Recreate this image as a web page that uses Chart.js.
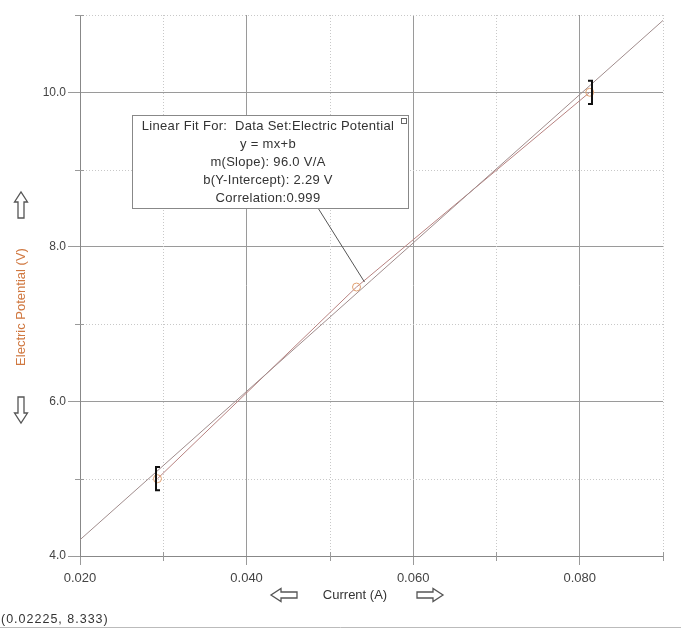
<!DOCTYPE html>
<html>
<head>
<meta charset="utf-8">
<script src="https://cdn.jsdelivr.net/npm/chart.js@4/dist/chart.umd.min.js"></script>
<style>
    html, body { margin:0; padding:0; background:#fff; }
    #wrap { width:681px; height:630px; position:relative; }
</style>
</head>
<body>
<div id="wrap"><canvas id="graph" width="681" height="630"></canvas></div>
<script>
// measured data (Current vs Electric Potential)
var current_a     = [0.0293, 0.0532, 0.0812];
var potential_v   = [5.00, 7.48, 10.00];

// linear fit drawn across the whole x range
var fit_x         = [0.020, 0.090];
var fit_y         = [4.21, 10.93];

// fit range brackets ( [ at first point, ] at last )
var bracket_index = [0, 2];
var bracket_half  = 0.15;

var x_tick_labels = ["0.020", "0.040", "0.060", "0.080"];
var y_tick_labels = ["4.0", "6.0", "8.0", "10.0"];

var fit_text = [
    "Linear Fit For:  Data Set:Electric Potential",
    "y = mx+b",
    "m(Slope): 96.0 V/A",
    "b(Y-Intercept): 2.29 V",
    "Correlation:0.999"
];
var status_text = "(0.02225, 8.333)";

var FONT  = "Liberation Sans, Arial, sans-serif";
var GRID  = "#9a9a9a";
var MINOR = "#c8c8c8";

function is_major_x(v){ return x_tick_labels.indexOf(v.toFixed(3)) >= 0; }
function is_major_y(v){ return y_tick_labels.indexOf(v.toFixed(1)) >= 0; }

//hollow block arrow, dir: "up" "down" "left" "right", centred on cx,cy
function block_arrow(c, cx, cy, dir){
    let len = 26, head = 10, hw = 6.5, sw = 3;
    //points for an arrow pointing right, then rotated
    let pts = [
        [-len/2, -sw], [len/2 - head, -sw], [len/2 - head, -hw], [len/2, 0],
        [len/2 - head, hw], [len/2 - head, sw], [-len/2, sw]
    ];
    let ang = {right:0, down:Math.PI/2, left:Math.PI, up:-Math.PI/2}[dir];
    c.save();
    c.translate(cx, cy);
    c.rotate(ang);
    c.beginPath();
    pts.forEach(function(p, i){ if (i == 0) c.moveTo(p[0], p[1]); else c.lineTo(p[0], p[1]); });
    c.closePath();
    c.fillStyle = "#fff";
    c.fill();
    c.lineWidth = 1.3;
    c.strokeStyle = "#555";
    c.stroke();
    c.restore();
}

var extras = {
    id: "extras",
    beforeDatasetsDraw: function(chart){
        let c  = chart.ctx;
        let a  = chart.chartArea;
        let xs = chart.scales.x;
        let ys = chart.scales.y;
        c.save();
        c.strokeStyle = MINOR;
        c.lineWidth = 1;
        //minor grid lines dotted
        c.setLineDash([1, 2]);
        xs.ticks.forEach(function(t){
            if (is_major_x(t.value)) return;
            let px = Math.round(xs.getPixelForValue(t.value)) + 0.5;
            c.beginPath(); c.moveTo(px, a.top); c.lineTo(px, a.bottom); c.stroke();
        });
        ys.ticks.forEach(function(t){
            if (is_major_y(t.value)) return;
            let py = Math.round(ys.getPixelForValue(t.value)) + 0.5;
            c.beginPath(); c.moveTo(a.left, py); c.lineTo(a.right, py); c.stroke();
        });
        //minor ticks
        c.setLineDash([]);
        c.strokeStyle = GRID;
        xs.ticks.forEach(function(t){
            if (is_major_x(t.value)) return;
            let px = Math.round(xs.getPixelForValue(t.value)) + 0.5;
            c.beginPath(); c.moveTo(px, a.bottom - 4); c.lineTo(px, a.bottom + 5); c.stroke();
        });
        ys.ticks.forEach(function(t){
            if (is_major_y(t.value)) return;
            let py = Math.round(ys.getPixelForValue(t.value)) + 0.5;
            c.beginPath(); c.moveTo(a.left - 5, py); c.lineTo(a.left + 4, py); c.stroke();
        });
        c.restore();
    },
    afterDatasetsDraw: function(chart){
        let c  = chart.ctx;
        let xs = chart.scales.x;
        let ys = chart.scales.y;
        c.save();

        //fit range brackets
        c.strokeStyle = "#111";
        c.lineWidth = 2;
        bracket_index.forEach(function(idx, n){
            let px  = Math.round(xs.getPixelForValue(current_a[idx])) + (n == 0 ? -1 : 2);
            let top = ys.getPixelForValue(potential_v[idx] + bracket_half);
            let bot = ys.getPixelForValue(potential_v[idx] - bracket_half);
            let dir = (n == 0) ? 4 : -4;
            c.beginPath();
            c.moveTo(px + dir, top); c.lineTo(px, top); c.lineTo(px, bot); c.lineTo(px + dir, bot);
            c.stroke();
        });

        //fit info box
        let bx = 132, by = 115, bw = 276, bh = 93;
        let tx = xs.getPixelForValue(current_a[1]) + 8;
        let ty = ys.getPixelForValue(potential_v[1]) - 5;
        c.lineWidth = 1;
        c.strokeStyle = "#555";
        c.beginPath(); c.moveTo(318, by + bh); c.lineTo(tx, ty); c.stroke();
        c.fillStyle = "#fff";
        c.fillRect(bx, by, bw, bh);
        c.strokeStyle = "#888";
        c.strokeRect(bx + 0.5, by + 0.5, bw, bh);
        c.strokeStyle = "#666";
        c.strokeRect(bx + bw - 6.5, by + 3.5, 5, 5);
        c.fillStyle = "#333";
        c.font = "13px " + FONT;
        c.letterSpacing = "0.3px";
        c.textAlign = "center";
        c.textBaseline = "middle";
        fit_text.forEach(function(s, i){
            c.fillText(s, 268, 126 + i * 18);
        });
        c.letterSpacing = "0px";

        //axis titles
        c.fillStyle = "#d07840";
        c.font = "13px " + FONT;
        c.save();
        c.translate(21, 307);
        c.rotate(-Math.PI / 2);
        c.fillText("Electric Potential (V)", 0, 0);
        c.restore();

        c.fillStyle = "#333";
        c.fillText("Current (A)", 355, 595);

        //scroll arrows
        block_arrow(c, 21, 205, "up");
        block_arrow(c, 21, 410, "down");
        block_arrow(c, 284, 595, "left");
        block_arrow(c, 430, 595, "right");

        //status line
        c.font = "12.5px " + FONT;
        c.letterSpacing = "1px";
        c.fillStyle = "#333";
        c.textAlign = "left";
        c.fillText(status_text, 1, 620);
        c.letterSpacing = "0px";
        c.strokeStyle = "#bbb";
        c.beginPath(); c.moveTo(0, 627.5); c.lineTo(681, 627.5); c.stroke();

        c.restore();
    }
};

window.addEventListener("load", function(){

    let fit_points  = fit_x.map(function(x, i){ return {x: x, y: fit_y[i]}; });
    let data_points = current_a.map(function(x, i){ return {x: x, y: potential_v[i]}; });

    new Chart(document.getElementById("graph"), {
        type: "scatter",
        data: {
            datasets: [
                {
                    data: fit_points,
                    showLine: true,
                    borderColor: "#a08c8c",
                    borderWidth: 1,
                    pointRadius: 0
                },
                {
                    data: data_points,
                    showLine: true,
                    borderColor: "#b88280",
                    borderWidth: 1,
                    pointRadius: 4,
                    pointBorderColor: "#e0a070",
                    pointBackgroundColor: "rgba(0,0,0,0)",
                    pointBorderWidth: 1
                }
            ]
        },
        options: {
            responsive: false,
            animation: false,
            layout: { padding: { left: 0, top: 15, right: 18, bottom: 0 } },
            plugins: { legend: { display: false }, tooltip: { enabled: false } },
            scales: {
                x: {
                    type: "linear",
                    min: 0.02, max: 0.09,
                    afterFit: function(s){ s.height = 74; },
                    ticks: {
                        stepSize: 0.01,
                        font: { family: FONT, size: 13 },
                        color: "#444",
                        padding: 6,
                        maxRotation: 0,
                        autoSkip: false,
                        callback: function(v){ return is_major_x(v) ? v.toFixed(3) : ""; }
                    },
                    grid: {
                        color: function(ctx){ return (ctx.tick && is_major_x(ctx.tick.value)) ? GRID : "rgba(0,0,0,0)"; },
                        tickColor: function(ctx){ return (ctx.tick && is_major_x(ctx.tick.value)) ? GRID : "rgba(0,0,0,0)"; },
                        tickLength: 9
                    },
                    border: { color: "#888" }
                },
                y: {
                    type: "linear",
                    min: 4, max: 11,
                    afterFit: function(s){ s.width = 80; },
                    ticks: {
                        stepSize: 1,
                        font: { family: FONT, size: 12 },
                        color: "#444",
                        padding: 2,
                        autoSkip: false,
                        callback: function(v){ return is_major_y(v) ? v.toFixed(1) : ""; }
                    },
                    grid: {
                        color: function(ctx){ return (ctx.tick && is_major_y(ctx.tick.value)) ? GRID : "rgba(0,0,0,0)"; },
                        tickColor: function(ctx){ return (ctx.tick && is_major_y(ctx.tick.value)) ? GRID : "rgba(0,0,0,0)"; },
                        tickLength: 12
                    },
                    border: { color: "#888" }
                }
            }
        },
        plugins: [extras]
    });

});
</script>
</body>
</html>
